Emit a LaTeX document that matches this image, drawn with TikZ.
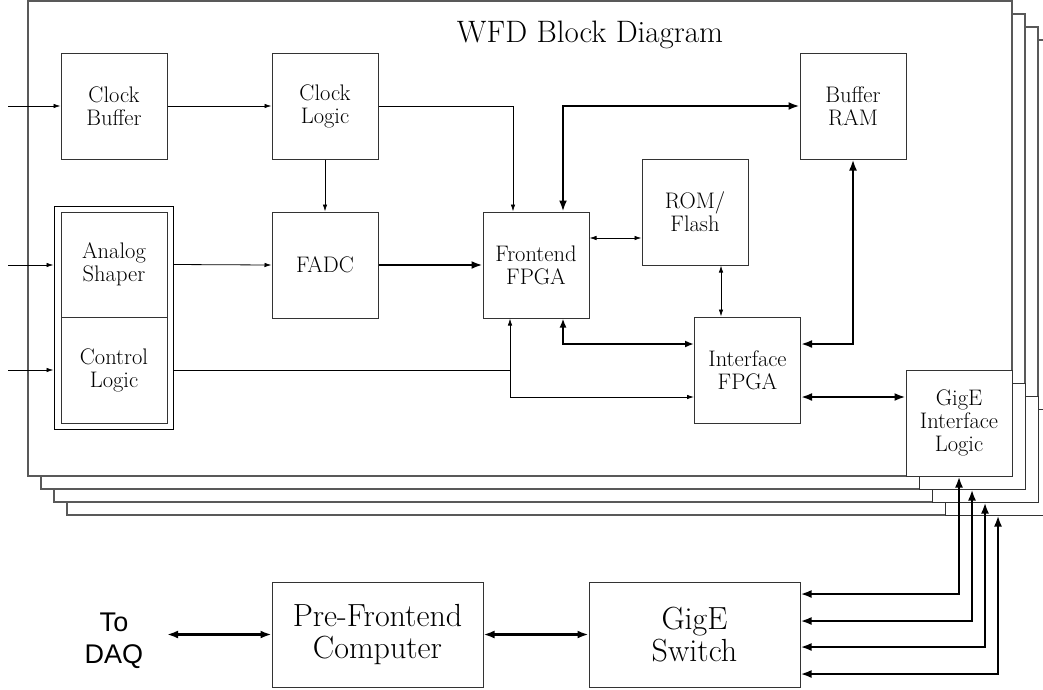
\documentclass[tikz,border=0pt]{standalone}
\usepackage{fontspec}
\newfontfamily\labelsans{Liberation Sans}
\usetikzlibrary{arrows.meta}
\tikzset{
  blk/.style={draw=black!80, line width=1pt, fill=white, inner sep=0pt,
    minimum width=106pt, minimum height=106pt, align=center,
    font=\fontsize{22.5}{23}\selectfont},
  bigblk/.style={blk, minimum width=211pt, minimum height=105pt,
    font=\fontsize{32}{32}\selectfont},
  board/.style={draw=black!65, line width=1.2pt, fill=white},
  gigebox/.style={draw=black!80, line width=1pt, fill=white,
    minimum width=106pt, minimum height=106pt, inner sep=0pt},
  sig/.style={line width=0.8pt, -{Latex[length=7pt,width=4.5pt]}},
  bisig/.style={line width=0.8pt, {Latex[length=7pt,width=4.5pt]}-{Latex[length=7pt,width=4.5pt]}},
  bus/.style={line width=1.8pt, {Latex[length=9pt,width=7pt]}-{Latex[length=9pt,width=7pt]}},
  fatbus/.style={line width=2.6pt, {Latex[length=11pt,width=8pt]}-{Latex[length=11pt,width=8pt]}},
  fatsig/.style={line width=2.6pt, -{Latex[length=11pt,width=8pt]}},
}
\begin{document}
\begin{tikzpicture}[x=1pt, y=-1pt]
\clip (0,0) rectangle (1043,689);
\fill[white] (0,0) rectangle (1043,689);

% stacked boards, back to front, each with its own GigE interface corner
\foreach \k in {3,2,1} {
  \draw[board] (28+13*\k, 1+13*\k) rectangle (1012+13*\k, 476+13*\k);
  \node[gigebox] (gige\k) at (959+13*\k, 423+13*\k) {};
}
\draw[board] (28,1) rectangle (1012,476);

\node[font=\fontsize{31}{34}\selectfont] (title) at (590,35) {WFD Block Diagram};

% front board blocks
\node[blk] (cb)  at (114,106)   {Clock\\Buffer};
\node[blk] (cl)  at (325,106)   {Clock\\Logic};
\node[blk] (ram) at (853,106)   {Buffer\\RAM};
\node[blk] (adc) at (325,265)   {FADC};
\node[blk] (fe)  at (536,265)   {Frontend\\FPGA};
\node[blk] (rom) at (695,212)   {ROM/\\Flash};
\node[blk] (ifc) at (747.5,370) {Interface\\FPGA};
\node[blk] (gige0) at (959,423) {GigE\\Interface\\Logic};

% analog front end: shaper and control logic in a double frame
\node[draw=black, line width=1pt, minimum width=119pt, minimum height=223pt,
      inner sep=0pt] (afe) at (113.5,317.5) {};
\node[blk, minimum height=105pt] (ana) at (114,264.5) {Analog\\Shaper};
\node[blk] (ctl) at (114,370) {Control\\Logic};

% external inputs
\coordinate (in1) at (8,106);
\coordinate (in2) at (8,265);
\coordinate (in3) at (8,370);
\draw[sig] (in1) -- (cb.west);
\draw[sig] (in2) -- (in2 -| afe.west);
\draw[sig] (in3) -- (in3 -| afe.west);

% clock path
\draw[sig] (cb.east) -- (cl.west);
\draw[sig] (cl.south) -- (adc.north);
\draw[sig] (cl.east) -| ([xshift=-23pt]fe.north);

% data path
\draw[sig] (ana.east -| afe.east) -- (adc.west);
\draw[fatsig] (adc.east) -- (fe.west);
\draw[fatbus] (ram.west) -| ([xshift=27pt]fe.north);
\draw[bisig] ([yshift=27pt]fe.east) -- ([yshift=27pt]fe.east -| rom.west);
\draw[bisig] ([xshift=26pt]rom.south) -- ([xshift=26pt]rom.south |- ifc.north);
\draw[bus] ([xshift=27pt]fe.south) |- ([yshift=26pt]ifc.west);
\draw[fatbus] ([yshift=26pt]ifc.east) -| (ram.south);
\draw[fatbus] ([yshift=-27pt]ifc.east) -- ([yshift=-27pt]ifc.east -| gige0.west);

% control logic fan-out
\coordinate (jct) at ([xshift=-26pt]fe.south |- ctl.east);
\draw[line width=0.8pt] (ctl.east -| afe.east) -- (jct);
\draw[sig] (jct) -- ([xshift=-26pt]fe.south);
\draw[sig] (jct) |- ([yshift=-27pt]ifc.west);

% readout chain
\node[font=\labelsans\fontsize{27}{32}\selectfont, align=center] (daq) at (114,641) {To\\DAQ};
\coordinate (daqport) at (167,634.5);
\node[bigblk] (pfc) at (377.5,634.5) {Pre-Frontend\\Computer};
\node[bigblk] (sw)  at (694.5,634.5) {GigE\\Switch};
\draw[fatbus] (daqport) -- (pfc.west);
\draw[fatbus] (pfc.east) -- (sw.west);

% switch links to every board
\draw[fatbus] ([yshift=40.5pt]sw.east)  -| (gige0.south);
\draw[fatbus] ([yshift=13.5pt]sw.east)  -| (gige1.south);
\draw[fatbus] ([yshift=-12.5pt]sw.east) -| (gige2.south);
\draw[fatbus] ([yshift=-39.5pt]sw.east) -| (gige3.south);
\end{tikzpicture}
\end{document}
